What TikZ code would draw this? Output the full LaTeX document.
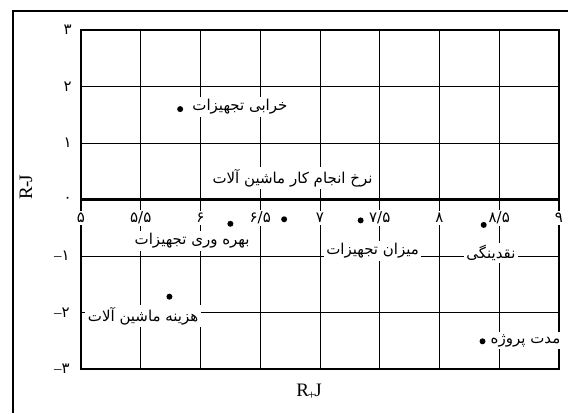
\documentclass[tikz,border=0pt]{standalone}
\usepackage{fontspec}
\setmainfont{Liberation Serif}
\newfontfamily\arabicfont[Script=Arabic]{DejaVu Sans}
\TeXXeTstate=1
\usetikzlibrary{positioning}
\newcommand{\fa}[1]{\beginR #1\endR}

\begin{document}
\begin{tikzpicture}[font=\fontsize{19}{21}\selectfont,
    dot/.style={circle, fill=black, inner sep=0pt, minimum size=6pt},
    tag/.style={fill=white, inner sep=2.5pt, font=\arabicfont\fontsize{15}{17}\selectfont},
    xnum/.style={fill=white, inner sep=2pt, font=\arabicfont\fontsize{15}{17}\selectfont},
    ynum/.style={anchor=east, inner sep=1pt, font=\arabicfont\fontsize{15}{17}\selectfont}]
  \useasboundingbox (0,0) rectangle (568pt,413pt);
  % outer frame, cut by the page
  \draw[line width=1.2pt] (13pt,0) -- (13pt,402pt) -- (568pt,402pt);
  \node[rotate=90] (ylab) at (26pt,226pt) {R\kern-1pt-\kern-1pt J};
  \node (xlab) at (309pt,21pt) {R\kern-1pt\raisebox{-.4ex}{\fontsize{13}{13}\selectfont +}\kern-1pt J};
  \begin{scope}[shift={(-516.5pt,213.5pt)}, x=119.5pt, y=56.5pt]
    % grid
    \foreach \i in {5.5,6,...,8.5}
      \draw[line width=0.9pt] (\i,-3) -- (\i,3);
    \foreach \j in {-2,-1,1,2}
      \draw[line width=0.9pt] (5,\j) -- (9,\j);
    \draw[line width=1.5pt] (5,-3) rectangle (9,3);
    \draw[line width=2.6pt] (5,0) -- (9,0);
    % scales
    \foreach \v/\t in {5/{۵}, 5.5/{۵/۵}, 6/{۶}, 6.5/{۶/۵}, 7/{۷}, 7.5/{۷/۵}, 8/{۸}, 8.5/{۸/۵}, 9/{۹}}
      \node[xnum] (x\v) at (\v,-0.33) {\t};
    \foreach \v/\t in {3/{۳}, 2/{۲}, 1/{۱}, 0/{۰}}
      \node[ynum] (y\v) at ([xshift=-8pt]5,\v) {\t};
    \foreach \v/\t in {-1/{۱}, -2/{۲}, -3/{۳}}
      \node[ynum] (y\v) at ([xshift=-10pt]5,\v) {{\rmfamily\textendash}\t};
    % factors
    \node[dot] (p1) at (5.83,1.60) {};
    \node[tag] (t1) at (6.33,1.64) {\fa{خرابی تجهیزات}};
    \node[tag] (t2) at (6.77,0.38) {\fa{نرخ انجام کار ماشین آلات}};
    \node[dot] (p3) at (6.25,-0.43) {};
    \node[tag] (t3) at (5.93,-0.73) {\fa{بهره وری تجهیزات}};
    \node[dot] (p2) at (6.70,-0.35) {};
    \node[dot] (p4) at (7.34,-0.37) {};
    \node[tag] (t4) at (7.44,-0.91) {\fa{میزان تجهیزات}};
    \node[dot] (p5) at (8.37,-0.45) {};
    \node[tag] (t5) at (8.43,-0.95) {\fa{نقدینگی}};
    \node[dot] (p6) at (5.74,-1.72) {};
    \node[tag] (t6) at (5.52,-2.06) {\fa{هزینه ماشین آلات}};
    \node[dot] (p7) at (8.36,-2.51) {};
    \node[tag] (t7) at (8.72,-2.50) {\fa{مدت پروژه}};
  \end{scope}
\end{tikzpicture}
\end{document}
